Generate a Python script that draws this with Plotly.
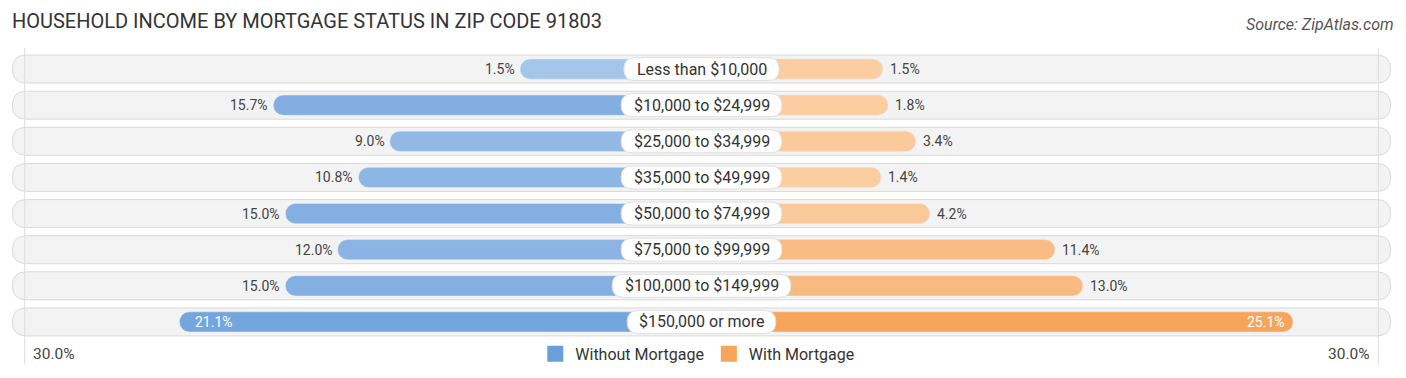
import plotly.graph_objects as go

# ---------------- data ----------------
categories = [
    "Less than $10,000",
    "$10,000 to $24,999",
    "$25,000 to $34,999",
    "$35,000 to $49,999",
    "$50,000 to $74,999",
    "$75,000 to $99,999",
    "$100,000 to $149,999",
    "$150,000 or more",
]
without_mortgage = [1.5, 15.7, 9.0, 10.8, 15.0, 12.0, 15.0, 21.1]
with_mortgage = [1.5, 1.8, 3.4, 1.4, 4.2, 11.4, 13.0, 25.1]
axis_label = "30.0%"
axis_value = 30.0
title_text = "HOUSEHOLD INCOME BY MORTGAGE STATUS IN ZIP CODE 91803"
source_text = "Source: ZipAtlas.com"
series_names = ["Without Mortgage", "With Mortgage"]

# ---------------- style ----------------
OFFSET = 8.94          # bar length (in % units) hidden under centre label
RANGE = 40.36
ROW_HALF = 39.65
FONT = "Roboto"
BLUE_LIGHT, BLUE_DARK = (169, 200, 236), (106, 159, 219)
ORANGE_LIGHT, ORANGE_DARK = (251, 208, 165), (246, 165, 91)
PX_X = 17.38           # px per x unit
PX_Y = 36.14           # px per y unit
LABEL_BOX_PAD = 24


def mix(c1, c2, t):
    return "rgb({},{},{})".format(*[round(a + (b - a) * t) for a, b in zip(c1, c2)])


vmax = max(max(without_mortgage), max(with_mortgage))
blue_cols = [mix(BLUE_LIGHT, BLUE_DARK, v / vmax) for v in without_mortgage]
orange_cols = [mix(ORANGE_LIGHT, ORANGE_DARK, v / vmax) for v in with_mortgage]

ys = list(range(len(categories)))


def text_px(s, size=16):
    w = 0.0
    for ch in s:
        if ch.isdigit() or ch == "$":
            w += 0.562
        elif ch in ",.":
            w += 0.22
        elif ch == " ":
            w += 0.248
        elif ch.isupper():
            w += 0.6
        elif ch in "tfr":
            w += 0.34
        elif ch == "m":
            w += 0.87
        else:
            w += 0.53
    return w * size


def pill(x0, x1, yc, h_px, r_px, fill, line_col, layer):
    hh = h_px / 2 / PX_Y
    rx = r_px / PX_X
    ry = r_px / PX_Y
    y0, y1 = yc - hh, yc + hh
    p = (f"M{x0 + rx},{y0} L{x1 - rx},{y0} Q{x1},{y0} {x1},{y0 + ry} "
         f"L{x1},{y1 - ry} Q{x1},{y1} {x1 - rx},{y1} L{x0 + rx},{y1} "
         f"Q{x0},{y1} {x0},{y1 - ry} L{x0},{y0 + ry} Q{x0},{y0} {x0 + rx},{y0} Z")
    return dict(type="path", xref="x", yref="y", path=p, fillcolor=fill,
                line=dict(color=line_col, width=1), layer=layer)


box_half = [(text_px(c) + LABEL_BOX_PAD) / 2 / PX_X for c in categories]

fig = go.Figure()

# series bars
fig.add_trace(go.Bar(
    y=ys, x=[-(v + OFFSET) for v in without_mortgage], base=0, orientation="h",
    width=0.56, marker=dict(color=blue_cols, cornerradius=10),
    name=series_names[0], showlegend=False, hoverinfo="skip"))
fig.add_trace(go.Bar(
    y=ys, x=[v + OFFSET for v in with_mortgage], base=0, orientation="h",
    width=0.56, marker=dict(color=orange_cols, cornerradius=10),
    name=series_names[1], showlegend=False, hoverinfo="skip"))

# legend entries
fig.add_trace(go.Scatter(x=[None], y=[None], mode="markers", name=series_names[0],
                         marker=dict(symbol="square", size=16, color="rgb(106,159,219)")))
fig.add_trace(go.Scatter(x=[None], y=[None], mode="markers", name=series_names[1],
                         marker=dict(symbol="square", size=16, color="rgb(246,165,91)")))

shapes = []
for i in ys:
    shapes.append(pill(-ROW_HALF, ROW_HALF, i, 28, 14, "#f3f3f3", "#dadada", "below"))
for i in ys:
    shapes.append(pill(-box_half[i], box_half[i], i, 23, 11.5, "#ffffff", "#e0e0e0", "above"))
for sgn in (-1, 1):
    shapes.append(dict(type="line", xref="x", yref="paper",
                       x0=sgn * (axis_value + OFFSET), x1=sgn * (axis_value + OFFSET),
                       y0=-0.087, y1=1.01, line=dict(color="#dddddd", width=1),
                       layer="above"))

ann = []
for i, c in enumerate(categories):
    ann.append(dict(x=0, y=i, text=c, showarrow=False, xanchor="center", yanchor="middle",
                    font=dict(family=FONT, size=16, color="#333333")))
    v = without_mortgage[i]
    end = -(v + OFFSET)
    if v >= 20:
        ann.append(dict(x=end, y=i, text=f"{v:.1f}%", showarrow=False, xanchor="left",
                        xshift=14, font=dict(family=FONT, size=14, color="#ffffff")))
    else:
        ann.append(dict(x=end, y=i, text=f"{v:.1f}%", showarrow=False, xanchor="right",
                        xshift=-3, font=dict(family=FONT, size=14, color="#444444")))
    v = with_mortgage[i]
    end = v + OFFSET
    if v >= 20:
        ann.append(dict(x=end, y=i, text=f"{v:.1f}%", showarrow=False, xanchor="right",
                        xshift=-6, font=dict(family=FONT, size=14, color="#ffffff")))
    else:
        ann.append(dict(x=end, y=i, text=f"{v:.1f}%", showarrow=False, xanchor="left",
                        xshift=5, font=dict(family=FONT, size=14, color="#444444")))

# axis end labels
ann.append(dict(x=-(axis_value + OFFSET), y=-0.048, yref="paper", text=axis_label,
                showarrow=False, xanchor="left", yanchor="middle", xshift=6,
                font=dict(family=FONT, size=15.5, color="#444444")))
ann.append(dict(x=axis_value + OFFSET, y=-0.048, yref="paper", text=axis_label,
                showarrow=False, xanchor="right", yanchor="middle", xshift=-6,
                font=dict(family=FONT, size=15.5, color="#444444")))
# source
ann.append(dict(x=1.0, y=1.0 + 26 / 289, xref="paper", yref="paper",
                text=f"<i>{source_text}</i>", showarrow=False, xanchor="right",
                yanchor="middle", xshift=-7, font=dict(family=FONT, size=16, color="#555555")))

fig.update_layout(
    width=1406, height=378,
    margin=dict(l=0, r=3, t=51, b=38),
    paper_bgcolor="white", plot_bgcolor="white",
    barmode="overlay",
    xaxis=dict(range=[-RANGE, RANGE], visible=False, fixedrange=True),
    yaxis=dict(range=[len(categories) - 0.5, -0.5], visible=False, fixedrange=True),
    title=dict(text=title_text, x=12 / 1406, xanchor="left", y=1 - 21 / 378,
               yanchor="middle", font=dict(family=FONT, size=20, color="#333333")),
    legend=dict(orientation="h", x=0.497, xanchor="center", y=-0.048, yanchor="middle",
                font=dict(family=FONT, size=16, color="#333333"),
                bgcolor="rgba(0,0,0,0)", itemclick=False),
    annotations=ann,
    shapes=shapes,
    font=dict(family=FONT),
)

fig.write_html("out.html", post_script="document.body.style.margin='0';",
               config={"displayModeBar": False})
